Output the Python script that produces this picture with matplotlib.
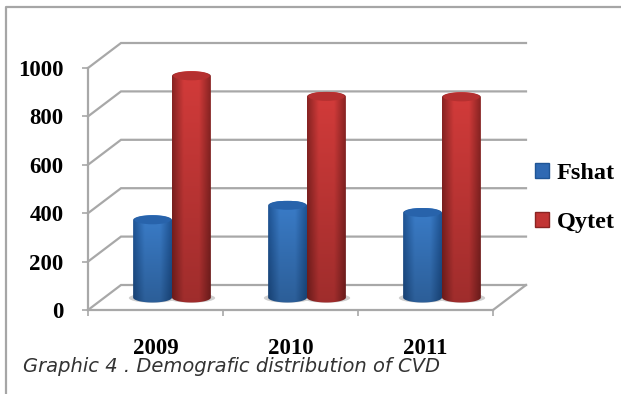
import matplotlib
matplotlib.use('Agg')
import matplotlib.pyplot as plt
import numpy as np
from matplotlib.colors import LinearSegmentedColormap
from matplotlib.patches import Ellipse, Patch, Polygon

years = ['2009', '2010', '2011']
fshat = [320, 380, 350]
qytet = [915, 830, 828]
series_names = ['Fshat', 'Qytet']
y_ticks = [0, 200, 400, 600, 800, 1000]

W, H = 621, 394
GRID = '#a8a8a8'
SERIF = 'Liberation Serif'

# floor depth of the fake 3D box, in data units
DEPTH_X = 33 / 135
DEPTH_Y = 25 / 0.242
BAR_W = 0.288
ELL_H = 5 / 0.242


def cylinder(ax, center, value, edge, mid, cap):
    # center is on the front plane, the bar sits halfway back in the box
    cx = center + DEPTH_X / 2
    y0 = DEPTH_Y / 2
    top = y0 + value
    half = BAR_W / 2

    ax.add_patch(Ellipse((cx, y0 - 2), BAR_W * 1.22, ELL_H * 1.9,
                         fc='#cfcfcf', ec='none', zorder=3))

    t = np.linspace(0, np.pi, 40)
    bottom_x = cx - half * np.cos(t)
    bottom_y = y0 - ELL_H * np.sin(t)
    top_x = cx + half * np.cos(t)
    top_y = top + ELL_H * np.sin(t)
    outline = np.column_stack([np.r_[bottom_x, top_x], np.r_[bottom_y, top_y]])
    body = Polygon(outline, closed=True, fc='none', ec='none', zorder=4)
    ax.add_patch(body)

    cmap = LinearSegmentedColormap.from_list('c', [(0, edge), (0.3, mid), (0.7, mid), (1, edge)])
    rgb = cmap(np.linspace(0, 1, 60))[:, :3][None, :, :]
    shade = np.linspace(0.76, 1.0, 40)[:, None, None]
    img = ax.imshow(rgb * shade, extent=(cx - half, cx + half, y0 - ELL_H, top + ELL_H),
                    origin='lower', aspect='auto', zorder=4, interpolation='bilinear')
    img.set_clip_path(body)

    ax.add_patch(Ellipse((cx, top + 1), BAR_W * 0.94, ELL_H * 1.8, fc=cap, ec='none', zorder=5))


fig = plt.figure(figsize=(W / 100, H / 100), dpi=100)
ax = fig.add_axes([88 / W, 1 - 310 / H, 405 / W, 242 / H])
ax.set_xlim(0, 3)
ax.set_ylim(0, 1000)

# back wall grid and the floor
for v in y_ticks:
    ax.plot([0, DEPTH_X, 3 + DEPTH_X], [v, v + DEPTH_Y, v + DEPTH_Y], color=GRID, lw=1.6,
            clip_on=False, zorder=1, solid_joinstyle='miter')
ax.plot([3, 3 + DEPTH_X], [0, DEPTH_Y], color=GRID, lw=1.6, clip_on=False, zorder=1)

centers = np.arange(len(years)) + 0.5
for i in range(len(years)):
    cylinder(ax, centers[i] - BAR_W / 2, fshat[i], '#1f5596', '#3a7cc8', '#2863ab')
    cylinder(ax, centers[i] + BAR_W / 2, qytet[i], '#8a2423', '#d23b3a', '#b53030')

for side in ['top', 'right']:
    ax.spines[side].set_visible(False)
for side in ['left', 'bottom']:
    ax.spines[side].set_color(GRID)
    ax.spines[side].set_linewidth(1.6)

ax.set_yticks(y_ticks)
ax.set_xticks(range(len(years) + 1))
ax.set_xticklabels([])
ax.set_xticks(centers, years, minor=True)
ax.tick_params(axis='y', length=4.5, width=1.2, color=GRID, pad=13)
ax.tick_params(axis='x', which='major', length=4.5, width=1.2, color=GRID)
ax.tick_params(axis='x', which='minor', length=0, pad=20)
for label in ax.get_yticklabels() + ax.get_xticklabels(minor=True):
    label.set_fontfamily(SERIF)
    label.set_fontweight('bold')
    label.set_fontsize(16.5)

handles = [Patch(fc='#2f69b3', ec='#1f5596'), Patch(fc='#c23534', ec='#8a2423')]
fig.legend(handles, series_names, loc='center left', bbox_to_anchor=(525 / W, 1 - 198 / H),
           frameon=False, handlelength=0.6, handleheight=0.6, handletextpad=0.3,
           labelspacing=1.15, borderaxespad=0, prop={'family': SERIF, 'weight': 'bold', 'size': 17.5})

fig.text(23 / W, 1 - 366 / H, 'Graphic 4 . Demografic distribution of CVD', style='italic',
         family='DejaVu Sans', fontsize=14, color='#333333', va='center', ha='left', zorder=10)

# outer frame, only left and top are inside the crop
fig.add_artist(plt.Line2D([5.5 / W, 5.5 / W, 1], [0, 1 - 6.5 / H, 1 - 6.5 / H], color='#a6a6a6', lw=1.6))

fig.savefig('out.png', dpi=100)
